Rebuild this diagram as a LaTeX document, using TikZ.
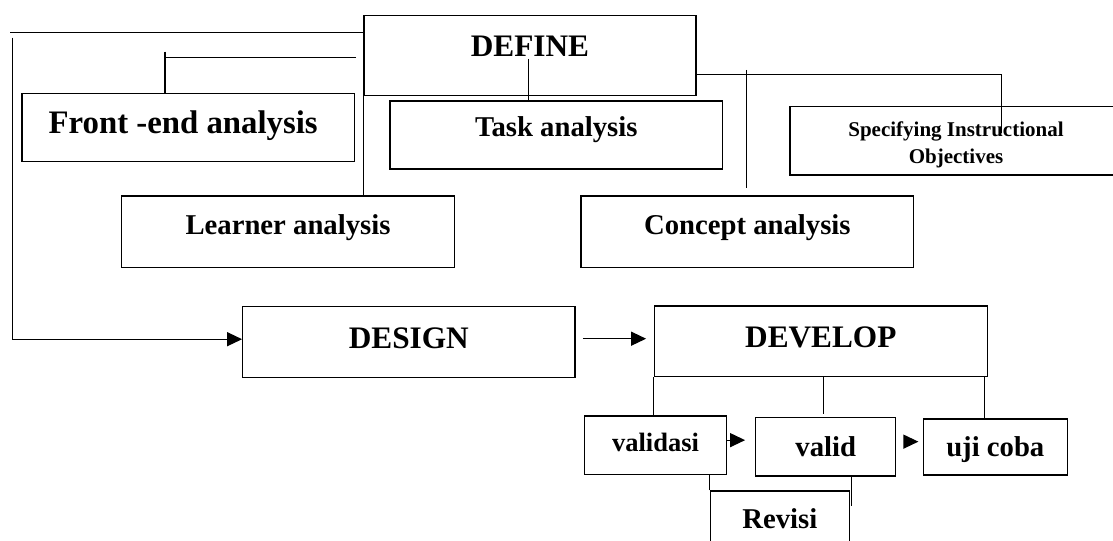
\documentclass[tikz,border=0pt]{standalone}
\usepackage{fontspec}
\setmainfont{Liberation Serif}
\usetikzlibrary{arrows.meta}
\begin{document}
\begin{tikzpicture}[x=1bp,y=-1bp,
  box/.style={draw, line width=1.2bp, inner sep=0pt, text height=24bp},
  hfont/.style={font=\fontsize{31.3bp}{36bp}\selectfont\bfseries},
  sfont/.style={font=\fontsize{28.7bp}{34bp}\selectfont\bfseries},
  conn/.style={line width=1.2bp},
  arr/.style={conn, -{Triangle[length=15bp,width=14bp]}}]
\useasboundingbox (0,0) rectangle (1113,541);
\clip (0,0) rectangle (1113,541);
% boxes
\node[box,hfont,minimum width=332bp,minimum height=80bp,text depth=22bp] (define) at (530,55.7) {DEFINE};
\node[box,font=\fontsize{32.8bp}{38bp}\selectfont\bfseries,minimum width=332.3bp,minimum height=68.4bp,text depth=12.4bp] (frontend) at (188.2,127.5) {Front -end analysis\rule{10bp}{0pt}};
\node[box,sfont,minimum width=332.7bp,minimum height=68bp,text depth=20bp] (task) at (556.3,135) {Task analysis};
\node[box,font=\fontsize{21bp}{27.3bp}\selectfont\bfseries,minimum width=332bp,minimum height=68.3bp,text depth=32.3bp] (spec) at (956,140.85) {\begin{tabular}[t]{@{}c@{}}Specifying Instructional\\Objectives\end{tabular}};
\node[box,sfont,minimum width=332.6bp,minimum height=71.3bp,text depth=18.7bp] (learner) at (288,231.65) {Learner analysis};
\node[box,sfont,minimum width=332.7bp,minimum height=71.3bp,text depth=18.7bp] (concept) at (747.35,231.65) {Concept analysis};
\node[box,hfont,minimum width=332.3bp,minimum height=71bp,text depth=11.8bp] (design) at (408.85,342.2) {DESIGN};
\node[box,hfont,minimum width=333bp,minimum height=70.7bp,text depth=12.1bp] (develop) at (820.8,341.35) {DEVELOP};
\node[box,font=\fontsize{26.5bp}{32bp}\selectfont\bfseries,minimum width=142.4bp,minimum height=58.3bp,text depth=10.9bp] (validasi) at (655.5,445.15) {validasi};
\node[box,sfont,minimum width=140bp,minimum height=58.7bp,text depth=5.3bp] (valid) at (825.7,446.65) {valid};
\node[box,sfont,minimum width=144bp,minimum height=56bp,text depth=4.6bp] (ujicoba) at (995.3,447) {uji coba};
\node[box,sfont,minimum width=139bp,minimum height=58bp,text depth=7.4bp] (revisi) at (779.8,520) {Revisi};
% free ends
\coordinate (tl) at (10,32.3);
\coordinate (lv) at (12.3,37.7);
\coordinate (fe) at (356,57.7);
\coordinate (fetop) at (165,51.7);
\coordinate (lr) at (363.3,71);
\coordinate (tk) at (528.7,59);
\coordinate (sp) at (1001.7,132.7);
\coordinate (c1) at (746.7,70);
\coordinate (c2) at (746.7,188.3);
\coordinate (dv2) at (823.7,414.3);
\coordinate (dv3) at (984.3,417.3);
\coordinate (rv) at (851.7,505.7);
% connectors
\draw[conn] (tl) -- (tl -| define.west);
\draw[arr] (lv) |- ([yshift=3bp]design.west);
\draw[conn] (fe) -- (fe -| fetop);
\draw[conn] (fetop) -- (fetop |- frontend.north);
\draw[conn] (lr) -- (lr |- learner.north);
\draw[conn] (tk) -- (tk |- task.north);
\draw[conn] ([yshift=-18.6bp]define.east) -| (sp);
\draw[conn] (c1) -- (c2);
\draw[arr, shorten <=7.3bp, shorten >=7.6bp] ([yshift=3.5bp]design.east) -- ([yshift=3.5bp]design.east -| develop.west);
\draw[conn] (develop.south west) -- (develop.south west |- validasi.north);
\draw[conn] (dv2 |- develop.south) -- (dv2);
\draw[conn] (dv3 |- develop.south) -- (dv3 |- ujicoba.north);
\draw[arr, shorten >=10bp] ([yshift=5bp]validasi.east) -- ([yshift=5bp]validasi.east -| valid.west);
\draw[arr, shorten <=7.6bp, shorten >=4.3bp] ([yshift=5bp]valid.east) -- ([yshift=5bp]valid.east -| ujicoba.west);
\draw[conn] (revisi.north west) -- (revisi.north west |- validasi.south);
\draw[conn] (rv |- valid.south) -- (rv);
\end{tikzpicture}
\end{document}
